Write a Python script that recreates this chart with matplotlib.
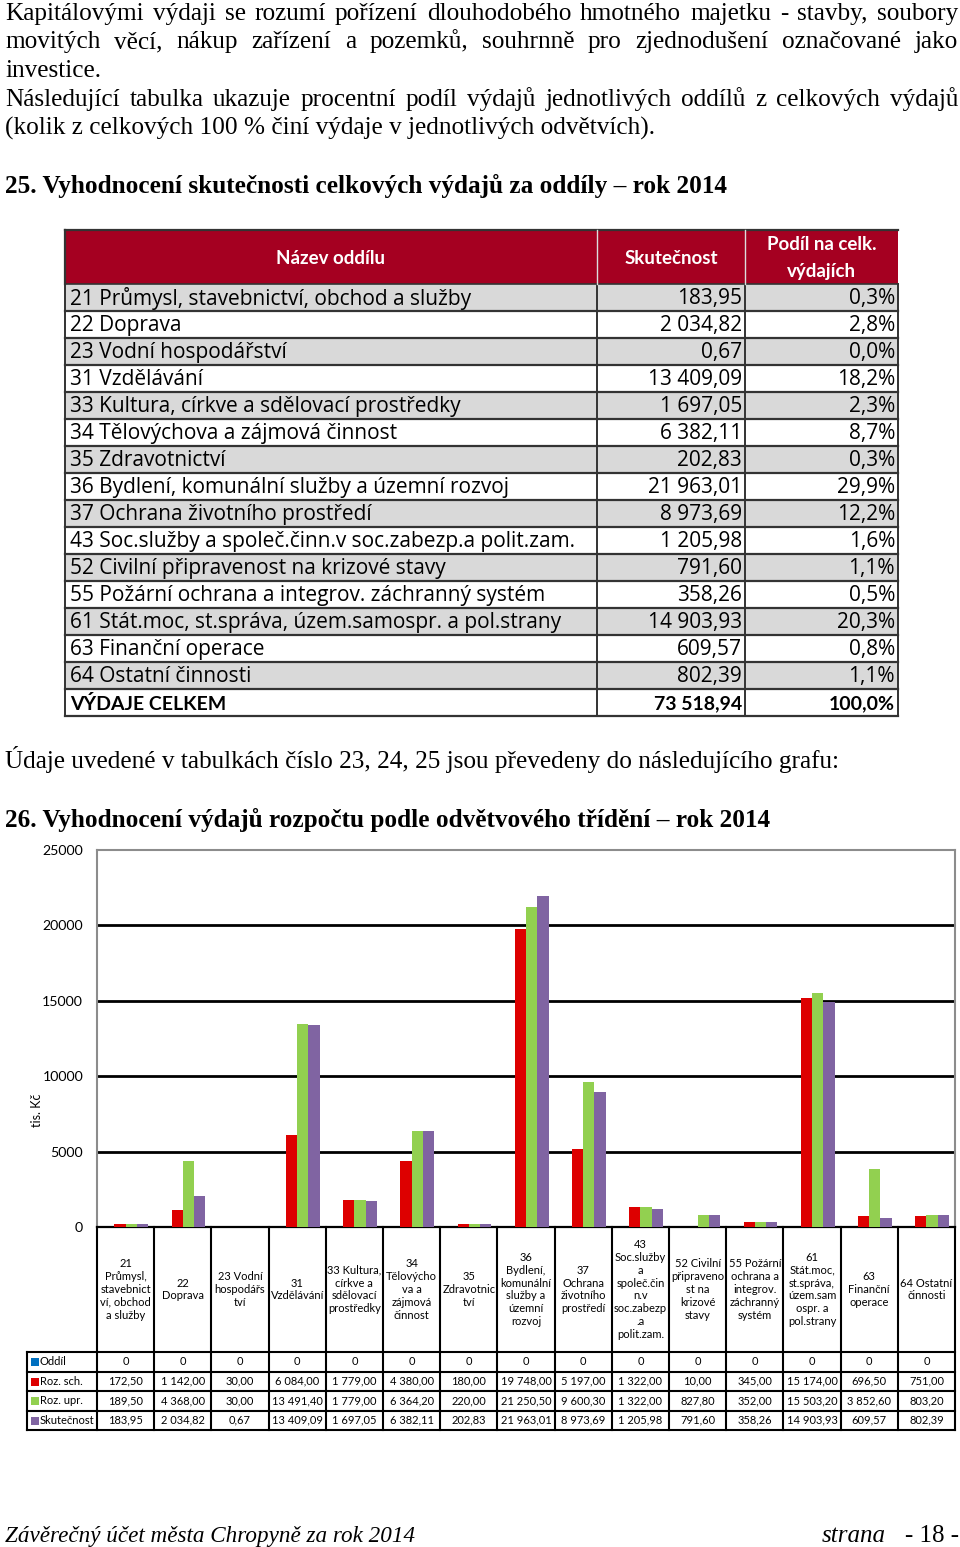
import matplotlib
matplotlib.use("Agg")
import matplotlib.pyplot as plt
from matplotlib.patches import Rectangle
import numpy as np

W, H = 960, 1547
SANS = ["Lato", "DejaVu Sans"]
WIDE = ["Open Sans", "DejaVu Sans"]
SERIF = ["Liberation Serif", "DejaVu Serif"]

# ---- data: table 25 ----
sections = [
    "21 Průmysl, stavebnictví, obchod a služby",
    "22 Doprava",
    "23 Vodní hospodářství",
    "31 Vzdělávání",
    "33 Kultura, církve a sdělovací prostředky",
    "34 Tělovýchova a zájmová činnost",
    "35 Zdravotnictví",
    "36 Bydlení, komunální služby a územní rozvoj",
    "37 Ochrana životního prostředí",
    "43 Soc.služby a společ.činn.v soc.zabezp.a polit.zam.",
    "52 Civilní připravenost na krizové stavy",
    "55 Požární ochrana a integrov. záchranný systém",
    "61 Stát.moc, st.správa, územ.samospr. a pol.strany",
    "63 Finanční operace",
    "64 Ostatní činnosti",
]
share = [0.3, 2.8, 0.0, 18.2, 2.3, 8.7, 0.3, 29.9, 12.2, 1.6, 1.1, 0.5, 20.3, 0.8, 1.1]
total_actual = 73518.94
total_share = 100.0

# ---- data: chart 26 ----
chart_labels = [
    "21\nPrůmysl,\nstavebnict\nví, obchod\na služby",
    "22\nDoprava",
    "23 Vodní\nhospodářs\ntví",
    "31\nVzdělávání",
    "33 Kultura,\ncírkve a\nsdělovací\nprostředky",
    "34\nTělovýcho\nva a\nzájmová\nčinnost",
    "35\nZdravotnic\ntví",
    "36\nBydlení,\nkomunální\nslužby a\núzemní\nrozvoj",
    "37\nOchrana\nživotního\nprostředí",
    "43\nSoc.služby\na\nspoleč.čin\nn.v\nsoc.zabezp\n.a\npolit.zam.",
    "52 Civilní\npřipraveno\nst na\nkrizové\nstavy",
    "55 Požární\nochrana a\nintegrov.\nzáchranný\nsystém",
    "61\nStát.moc,\nst.správa,\núzem.sam\nospr. a\npol.strany",
    "63\nFinanční\noperace",
    "64 Ostatní\nčinnosti",
]
series_names = ["Oddíl", "Roz. sch.", "Roz. upr.", "Skutečnost"]
oddil = [0, 0, 0, 0, 0, 0, 0, 0, 0, 0, 0, 0, 0, 0, 0]
roz_sch = [172.50, 1142.00, 30.00, 6084.00, 1779.00, 4380.00, 180.00, 19748.00,
           5197.00, 1322.00, 10.00, 345.00, 15174.00, 696.50, 751.00]
roz_upr = [189.50, 4368.00, 30.00, 13491.40, 1779.00, 6364.20, 220.00, 21250.50,
           9600.30, 1322.00, 827.80, 352.00, 15503.20, 3852.60, 803.20]
skutecnost = [183.95, 2034.82, 0.67, 13409.09, 1697.05, 6382.11, 202.83, 21963.01,
              8973.69, 1205.98, 791.60, 358.26, 14903.93, 609.57, 802.39]
colors = ["#0070C0", "#DD0000", "#92D050", "#8064A2"]


def cz(v, d=2):
    s = f"{v:,.{d}f}"
    return s.replace(",", " ").replace(".", ",")


fig = plt.figure(figsize=(W / 100, H / 100), dpi=100)
pg = fig.add_axes([0, 0, 1, 1])
pg.set_xlim(0, W)
pg.set_ylim(H, 0)
pg.axis("off")
renderer = fig.canvas.get_renderer()


def justify(line, y, x0=5, x1=958, **kw):
    words = line.split(" ")
    ts = [pg.text(0, y, w, va="baseline", ha="left", **kw) for w in words]
    widths = [t.get_window_extent(renderer).width for t in ts]
    gap = (x1 - x0 - sum(widths)) / (len(words) - 1)
    x = x0
    for t, w in zip(ts, widths):
        t.set_x(x)
        x += w + gap


body = dict(family=SERIF, fontsize=18.2)
justify("Kapitálovými výdaji se rozumí pořízení dlouhodobého hmotného majetku - stavby, soubory", 20, **body)
justify("movitých věcí, nákup zařízení a pozemků, souhrnně pro zjednodušení označované jako", 48, **body)
pg.text(5, 77, "investice.", va="baseline", **body)
justify("Následující tabulka ukazuje procentní podíl výdajů jednotlivých oddílů z celkových výdajů", 106, **body)
pg.text(5, 135, "(kolik z celkových 100 % činí výdaje v jednotlivých odvětvích).", va="baseline", **body)
pg.text(5, 193, "25. Vyhodnocení skutečnosti celkových výdajů za oddíly – rok 2014",
        va="baseline", fontweight="bold", **body)

# ---- table 25 ----
c0, c1, c2, c3 = 65, 597, 745, 898
head_top, head_bot = 230, 284
row_h = 27
n_rows = len(sections) + 1
pg.add_patch(Rectangle((c0, head_top), c3 - c0, head_bot - head_top, facecolor="#A50021", edgecolor="none"))
for i in range(n_rows):
    y0 = head_bot + i * row_h
    if i % 2 == 0 and i < len(sections):
        pg.add_patch(Rectangle((c0, y0), c3 - c0, row_h, facecolor="#D9D9D9", edgecolor="none"))
    pg.plot([c0, c3], [y0 + row_h, y0 + row_h], color="#333333", lw=1.6)
pg.plot([c0, c3], [head_top, head_top], color="#333333", lw=1.6)
pg.plot([c0, c3], [head_bot, head_bot], color="#333333", lw=1.2)
tab_bot = head_bot + n_rows * row_h
for cx in (c0, c1, c2, c3):
    pg.plot([cx, cx], [head_bot, tab_bot], color="#333333", lw=1.4)
for cx in (c1, c2):
    pg.plot([cx, cx], [head_top, head_bot], color="#DDDDDD", lw=1.0)
pg.plot([c0, c0], [head_top, head_bot], color="#333333", lw=1.6)

hk = dict(family=SANS, fontsize=13.5, color="white", fontweight="bold", va="center", ha="center")
pg.text((c0 + c1) / 2, 258, "Název oddílu", **hk)
pg.text((c1 + c2) / 2, 258, "Skutečnost", **hk)
pg.text((c2 + c3) / 2, 245, "Podíl na celk.", **hk)
pg.text((c2 + c3) / 2, 271, "výdajích", **hk)

tk = dict(family=WIDE, fontsize=15, va="center")
for i, (name, val, sh) in enumerate(zip(sections, skutecnost, share)):
    yc = head_bot + i * row_h + row_h / 2 + 1
    pg.text(c0 + 5, yc, name, ha="left", **tk)
    pg.text(c2 - 3, yc, cz(val), ha="right", **tk)
    pg.text(c3 - 3, yc, cz(sh, 1) + "%", ha="right", **tk)
bk = dict(family=SANS, fontsize=14, va="center", fontweight="bold")
yc = head_bot + len(sections) * row_h + row_h / 2 + 1
pg.text(c0 + 5, yc, "VÝDAJE CELKEM", ha="left", **bk)
pg.text(c2 - 3, yc, cz(total_actual), ha="right", **bk)
pg.text(c3 - 3, yc, cz(total_share, 1) + "%", ha="right", **bk)

pg.text(5, 768, "Údaje uvedené v tabulkách číslo 23, 24, 25 jsou převedeny do následujícího grafu:",
        va="baseline", **body)
pg.text(5, 827, "26. Vyhodnocení výdajů rozpočtu podle odvětvového třídění – rok 2014",
        va="baseline", fontweight="bold", **body)

# ---- chart 26 ----
ax_l, ax_r, ax_t, ax_b = 97, 955, 850, 1227
ax = fig.add_axes([ax_l / W, 1 - ax_b / H, (ax_r - ax_l) / W, (ax_b - ax_t) / H])
ax.patch.set_alpha(0)
x = np.arange(len(chart_labels))
bw = 0.197
for k, (vals, col) in enumerate(zip([oddil, roz_sch, roz_upr, skutecnost], colors)):
    ax.bar(x + (k - 1.5) * bw, vals, bw, color=col, linewidth=0, zorder=3)
yt = np.arange(0, 25001, 5000)
for v in yt[1:-1]:
    ax.axhline(v, color="black", lw=2, zorder=1)
ax.set_xlim(-0.5, len(chart_labels) - 0.5)
ax.set_ylim(0, 25000)
ax.set_yticks(yt)
ax.set_yticklabels([str(v) for v in yt], family=SANS, fontsize=10.2)
ax.set_xticks([])
ax.tick_params(axis="y", length=0, pad=10)
for s in ("left", "top", "right"):
    ax.spines[s].set_color("#8C8C8C")
    ax.spines[s].set_linewidth(1.5)
ax.spines["bottom"].set_color("black")
ax.spines["bottom"].set_linewidth(1.6)
pg.text(37, 1110, "tis. Kč", rotation=90, ha="center", va="center", family=SANS, fontsize=9)

# ---- data table under chart ----
cat_w = (ax_r - ax_l) / len(chart_labels)
xb = [ax_l + i * cat_w for i in range(len(chart_labels) + 1)]
lab_bot = 1352
rows_y = [1352, 1371.5, 1391, 1410.5, 1430]
leg_l = 27
lk = dict(family=SANS, fontsize=8, color="black")
for xv in xb:
    pg.plot([xv, xv], [ax_b, rows_y[-1]], color="black", lw=1.5)
pg.plot([leg_l, leg_l], [rows_y[0], rows_y[-1]], color="black", lw=1.5)
for yv in rows_y:
    pg.plot([leg_l, ax_r], [yv, yv], color="black", lw=1.5)
for i, lab in enumerate(chart_labels):
    pg.text((xb[i] + xb[i + 1]) / 2, (ax_b + lab_bot) / 2, lab, ha="center", va="center",
            linespacing=1.2, **lk)
for r, (nm, vals, col) in enumerate(zip(series_names, [oddil, roz_sch, roz_upr, skutecnost], colors)):
    yc = (rows_y[r] + rows_y[r + 1]) / 2
    pg.add_patch(Rectangle((31, yc - 3.5), 8, 8, facecolor=col, edgecolor="none"))
    pg.text(40, yc, nm, ha="left", va="center", **lk)
    for i, v in enumerate(vals):
        txt = "0" if r == 0 else cz(v)
        pg.text((xb[i] + xb[i + 1]) / 2, yc, txt, ha="center", va="center", **lk)

# ---- footer ----
pg.text(5, 1542, "Závěrečný účet města Chropyně za rok 2014", va="baseline",
        family=SERIF, fontsize=16.7, style="italic")
pg.text(822, 1542, "strana", va="baseline", family=SERIF, fontsize=18, style="italic")
pg.text(905, 1542, "- 18 -", va="baseline", family=SERIF, fontsize=18)

fig.savefig("out.png", dpi=100)
